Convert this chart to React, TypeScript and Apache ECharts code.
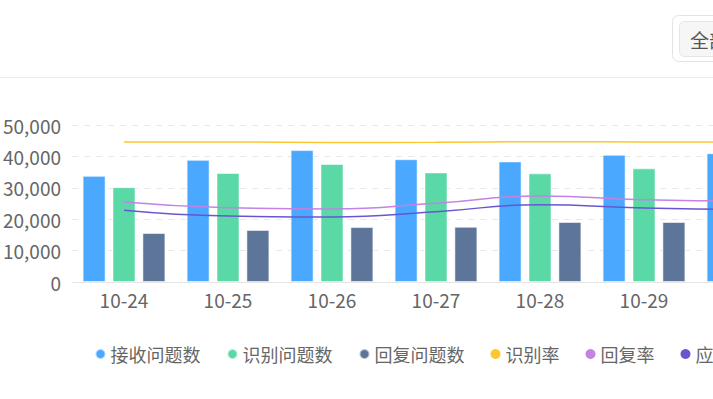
import React, { useEffect, useRef } from "react";
import * as echarts from "echarts";

const categories = ["10-24", "10-25", "10-26", "10-27", "10-28", "10-29", "10-30"];
const received = [33800, 38900, 42000, 39100, 38400, 40500, 41000];
const identified = [30200, 34700, 37600, 34900, 34600, 36200, 36600];
const replied = [15600, 16600, 17500, 17600, 19100, 19100, 19000];
const identifyRate = [89.2, 89.2, 88.9, 89.0, 89.4, 89.2, 89.1];
const replyRate = [51.0, 47.3, 46.5, 50.1, 54.8, 52.4, 51.5];
const answerRate = [45.7, 42.0, 41.4, 44.8, 49.2, 47.1, 46.2];
const legendNames = ["接收问题数", "识别问题数", "回复问题数", "识别率", "回复率", "应答率"];
const yTicks = { min: 0, max: 50000, interval: 10000 };

const FONT = '"Noto Sans CJK SC", "Noto Sans", sans-serif';

export default function App() {
  const ref = useRef<HTMLDivElement>(null);
  useEffect(() => {
    if (!ref.current) return;
    const chart = echarts.init(ref.current, undefined, { renderer: "svg" });
    const barBorder = { borderColor: "rgba(255,255,255,0.55)", borderWidth: 1 };
    chart.setOption({
      animation: false,
      textStyle: { fontFamily: FONT },
      graphic: [
        { type: "line", shape: { x1: 0, y1: 77.5, x2: 900, y2: 77.5 }, style: { stroke: "#ebebeb", lineWidth: 1 } },
        { type: "rect", shape: { x: 672.5, y: 15.5, width: 140, height: 46, r: 6 }, style: { fill: "#fff", stroke: "#e3e3e3", lineWidth: 1 } },
        { type: "rect", shape: { x: 679.5, y: 21.5, width: 120, height: 35, r: 5 }, style: { fill: "#f6f6f6", stroke: "#e6e6e6", lineWidth: 1 } },
        { type: "text", x: 690, y: 39, style: { text: "全部", fontSize: 19, fill: "#555", fontFamily: FONT, verticalAlign: "middle" } },
      ],
      grid: { left: 68, right: 44, top: 125, bottom: 117 },
      legend: {
        data: legendNames,
        top: 340,
        left: "center",
        icon: "circle",
        itemWidth: 10,
        itemHeight: 10,
        itemGap: 26,
        textStyle: { fontSize: 18, color: "#666", fontFamily: FONT },
      },
      xAxis: {
        type: "category",
        data: categories,
        axisTick: { show: false },
        axisLine: { lineStyle: { color: "#e6e6e6" } },
        axisLabel: { fontSize: 19, color: "#666", margin: 8, fontFamily: FONT },
      },
      yAxis: [
        {
          type: "value",
          min: yTicks.min,
          max: yTicks.max,
          interval: yTicks.interval,
          axisLabel: {
            fontSize: 19,
            color: "#666",
            margin: 11,
            fontFamily: FONT,
            formatter: (v: number) => v.toLocaleString("en-US"),
          },
          splitLine: { lineStyle: { color: "#e8e8e8", type: [6, 6] } },
          axisLine: { show: false },
          axisTick: { show: false },
        },
        { type: "value", min: 0, max: 100, show: false, splitLine: { show: false } },
      ],
      series: [
        { name: legendNames[0], type: "bar", data: received, barWidth: 23, barGap: "30%", itemStyle: { color: "#4AA8FF", ...barBorder } },
        { name: legendNames[1], type: "bar", data: identified, barWidth: 23, barGap: "30%", itemStyle: { color: "#5AD8A6", ...barBorder } },
        { name: legendNames[2], type: "bar", data: replied, barWidth: 23, barGap: "30%", itemStyle: { color: "#5D7599", ...barBorder } },
        { name: legendNames[3], type: "line", yAxisIndex: 1, data: identifyRate, smooth: true, showSymbol: false, symbol: "none", itemStyle: { color: "#FFC62E" }, lineStyle: { width: 1.5, color: "#FFC62E" } },
        { name: legendNames[4], type: "line", yAxisIndex: 1, data: replyRate, smooth: true, showSymbol: false, symbol: "none", itemStyle: { color: "#C382E4" }, lineStyle: { width: 1.5, color: "#C382E4" } },
        { name: legendNames[5], type: "line", yAxisIndex: 1, data: answerRate, smooth: true, showSymbol: false, symbol: "none", itemStyle: { color: "#6A55D1" }, lineStyle: { width: 1.5, color: "#6A55D1" } },
      ],
    });
    return () => chart.dispose();
  }, []);
  return (
    <div
      ref={ref}
      style={{ position: "fixed", left: 0, top: 0, width: 844, height: 399, background: "#fff" }}
    />
  );
}
